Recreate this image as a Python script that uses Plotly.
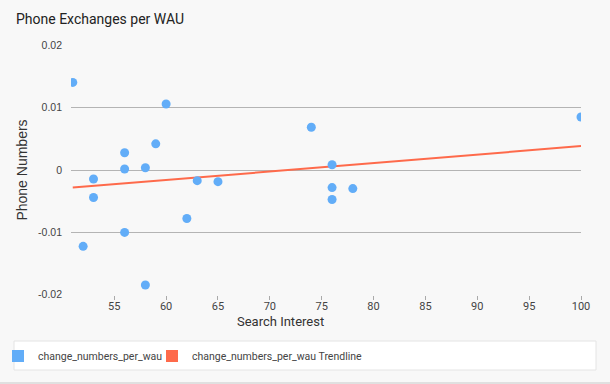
import plotly.graph_objects as go

search_interest = [51, 52, 53, 53, 56, 56, 56, 58, 58, 59, 60, 62, 63, 65, 74, 76, 76, 76, 78, 100]
phone_numbers = [0.01408, -0.01227, -0.00144, -0.00443, 0.00277, 0.00016, -0.01003, 0.00037,
                 -0.0185, 0.00421, 0.01061, -0.00779, -0.00171, -0.00187, 0.00688, 0.00085,
                 -0.00283, -0.00475, -0.00299, 0.00853]
trend_x = [51, 100]
trend_y = [-0.00283, 0.00384]
x_ticks = [55, 60, 65, 70, 75, 80, 85, 90, 95, 100]
y_ticks = [-0.02, -0.01, 0, 0.01, 0.02]
y_tick_labels = ["-0.02", "-0.01", "0", "0.01", "0.02"]

BLUE = "#62adf8"
ORANGE = "#fe6a4b"
FONT = "Roboto"
YFONT = "Liberation Sans, Arial, sans-serif"

L, R, T, B = 71, 29, 45, 89
W, H = 610, 384
pw, ph = W - L - R, H - T - B


def px(x):
    return (x - L) / pw


def py(y):
    return (H - B - y) / ph


fig = go.Figure()
fig.add_trace(go.Scatter(x=trend_x, y=trend_y, mode="lines",
                         line=dict(color=ORANGE, width=2), showlegend=False, hoverinfo="skip"))
fig.add_trace(go.Scatter(x=search_interest, y=phone_numbers, mode="markers",
                         marker=dict(color=BLUE, size=9), showlegend=False))
# legend entries
fig.add_trace(go.Scatter(x=[None], y=[None], mode="markers", name="change_numbers_per_wau",
                         marker=dict(color=BLUE, size=13, symbol="square"), legend="legend"))
fig.add_trace(go.Scatter(x=[None], y=[None], mode="markers", name="change_numbers_per_wau Trendline",
                         marker=dict(color=ORANGE, size=13, symbol="square"), legend="legend2"))

fig.add_shape(type="rect", xref="paper", yref="paper",
              x0=px(14), x1=px(596), y0=py(370), y1=py(341),
              line=dict(color="#e4e4e4", width=1), fillcolor="white", layer="below")
fig.add_shape(type="line", xref="paper", yref="paper",
              x0=px(0), x1=px(610), y0=py(383), y1=py(383),
              line=dict(color="#e0e0e0", width=2))

fig.add_annotation(text="Search Interest", xref="paper", yref="paper",
                   x=px(280), y=py(321), xanchor="center", yanchor="middle", showarrow=False,
                   font=dict(family=FONT, size=13, color="#333"))

legend_common = dict(orientation="h", yanchor="middle", y=py(356),
                     bgcolor="rgba(0,0,0,0)", font=dict(family=FONT, size=10.5, color="#444"),
                     itemsizing="constant")

fig.update_layout(
    width=W, height=H,
    margin=dict(l=L, r=R, t=T, b=B, autoexpand=False),
    paper_bgcolor="#f8f8f8", plot_bgcolor="#f8f8f8",
    font=dict(family=FONT, color="#444"),
    title=dict(text="Phone Exchanges per WAU", x=16 / W, xanchor="left", y=1 - 19 / H, yanchor="middle",
               font=dict(family=FONT, size=14, color="#222")),
    showlegend=True,
    legend=dict(x=px(-2), xanchor="left", **legend_common),
    legend2=dict(x=px(152), xanchor="left", **legend_common),
    xaxis=dict(range=[50.83, 100], tickvals=x_ticks, showgrid=False, zeroline=False,
               ticks="outside", ticklen=4, tickcolor="#aaa", showline=False,
               ticklabelstandoff=-3, automargin=False,
               tickfont=dict(size=11, color="#444")),
    yaxis=dict(range=[-0.0201, 0.0201], tickvals=y_ticks, ticktext=y_tick_labels,
               showgrid=True, gridcolor="#b4b4b4", zeroline=False, showline=False,
               ticks="", ticklabelstandoff=8, automargin=False,
               title=dict(text="Phone Numbers", font=dict(family=YFONT, size=14, color="#333"), standoff=7),
               tickfont=dict(family=YFONT, size=10.5, color="#444")),
)

fig.write_html("out.html", config={"displayModeBar": False},
               post_script="document.body.style.margin='0';document.body.style.background='#f8f8f8';")
